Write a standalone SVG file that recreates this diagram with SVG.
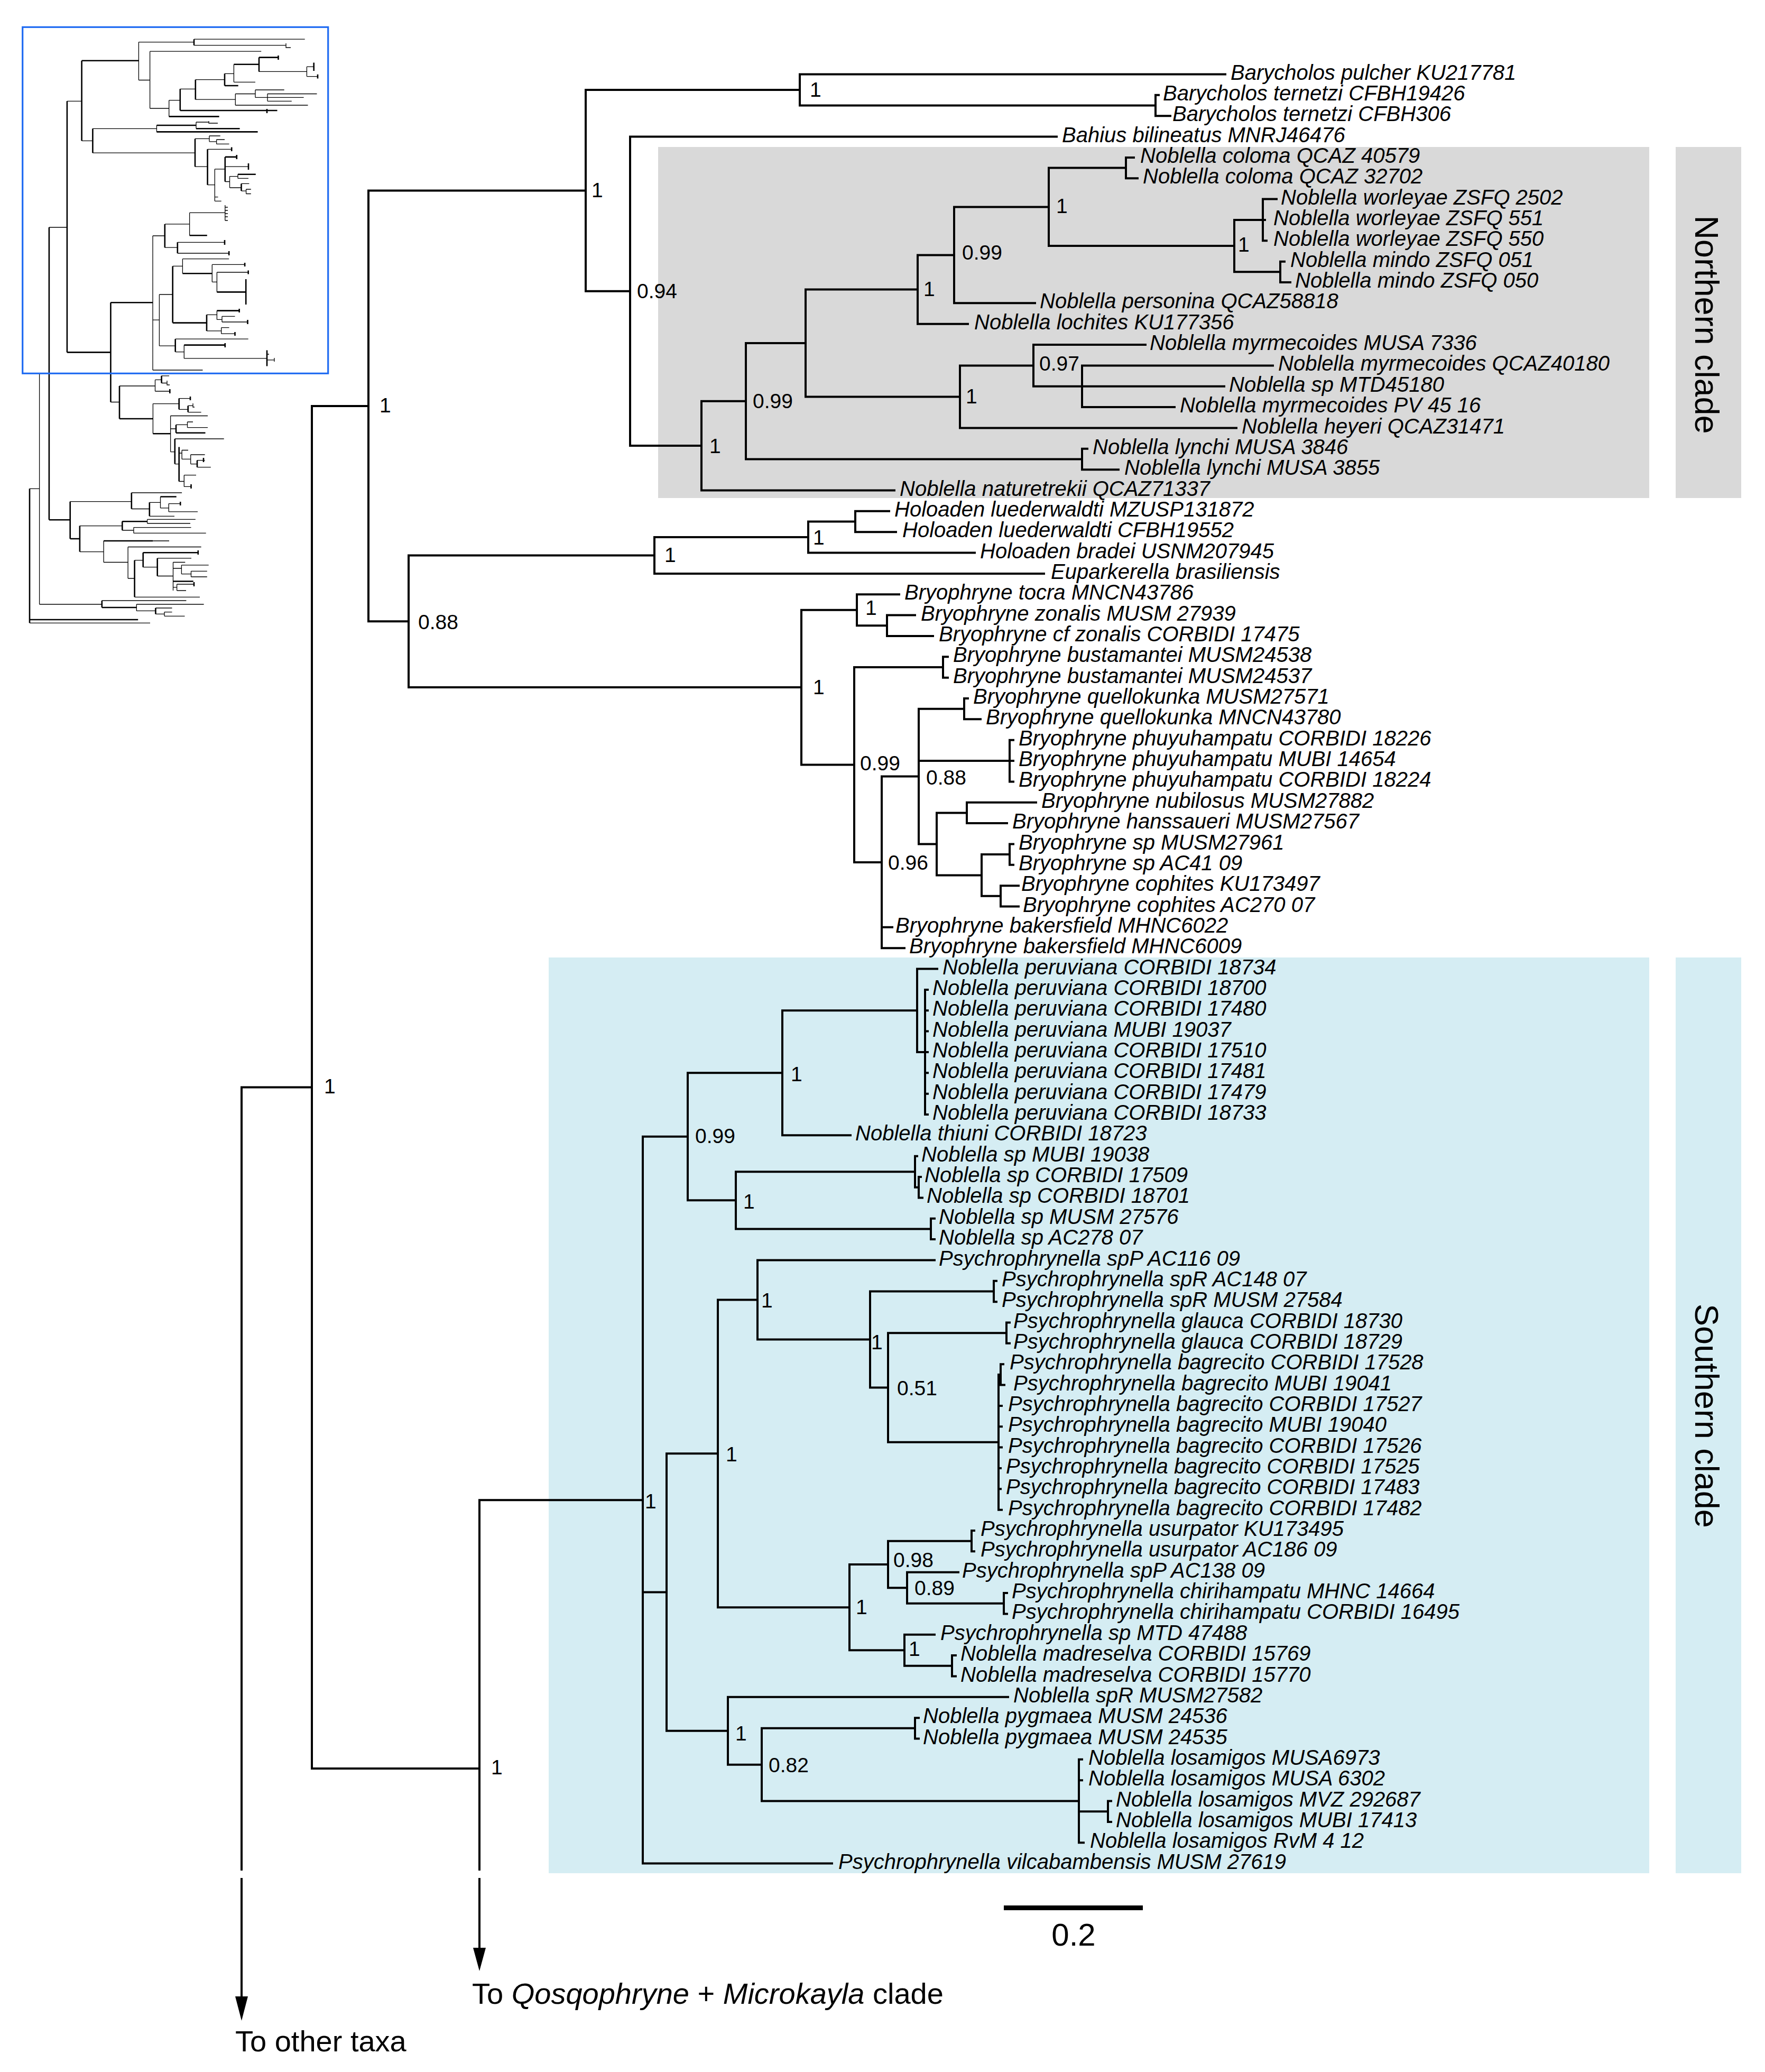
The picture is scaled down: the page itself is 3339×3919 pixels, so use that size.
<svg xmlns="http://www.w3.org/2000/svg" width="3339" height="3919" viewBox="0 0 3339 3919">
<style>
.br{stroke:#000;stroke-width:4;fill:none;stroke-linecap:square}
.tn{stroke:#000;stroke-width:1.3;fill:none}
.tk{stroke:#000;stroke-width:2.6;fill:none}
.lf{font-family:"Liberation Sans",Arial,sans-serif;font-style:italic;font-size:40px;fill:#000}
.sv{font-family:"Liberation Sans",Arial,sans-serif;font-size:39px;fill:#000}
.cl{font-family:"Liberation Sans",Arial,sans-serif;font-size:63px;fill:#000}
.bt{font-family:"Liberation Sans",Arial,sans-serif;font-size:56px;fill:#000}
</style>
<rect width="3339" height="3919" fill="#fff"/>
<g id="thumbnail">
<path class="tn" d="M262.4,79.6V151.5M262.4,79.6H367M367,74.2H576.7M367,85.7H541M541,82V90H550M262.4,151.5H283.6M283.6,97.2V205M283.6,97.2H494.2M283.6,205H319.7M319.7,189.7V220.4M319.7,189.7H340.8M340.8,168.3H369.8M369.8,188.2H445.3M445.3,177.5V199M445.3,177.5H483M483,170V184.4M483,170H537.7M483,184.4H506M506,177.5V191.3M506,177.5H599.5M506,184.4H574.6M506,191.3H551.8M445.3,199H582.5M369.8,150.7H425M425,139.3H442.4M442.4,121.7V155.3M442.4,155.3H483M490,135.4H580.4M580.4,126.2V144.6M580.4,126.2H593.7M580.4,144.6H601M126.9,191.3H154.6M154.6,266.3H175.4M175.4,243.3H296.4M296.4,237V249.4M371,231V243.3M371,231H395M395,229V233H412M175.4,289.2H369M369,262.4H396M396,257V267.8M396,257H416.7M396,267.8H409.6M409.6,264V272.4M409.6,264H425M409.6,272.4H433.5M369,315.2H392.6M392.6,282.3H438.2M392.6,349.7H406.3M406.3,319.8V380.3M406.3,380.3H418.7M406.3,372.6H412.5M406.3,319.8H425.8M425.8,315.2H470M425.8,343.5H434.5M434.5,333.6V355M434.5,333.6H450M450,329.8V337.4M450,337.4H470M434.5,355H456.5M456.5,347.4H471.4M456.5,361.1H465.6M465.6,358V366.5M465.6,358H474.8M465.6,366.5H474.8M289,446V700M289,446H311.8M311.8,423.9H358.6M358.6,402.4V445.3M358.6,402.4H425.8M425.8,387.9V417M425.8,392H431M425.8,398H431M425.8,404H431M425.8,410H431M425.8,417H431M311.8,468.2H335.8M335.8,458.3H425M335.8,479H433.2M289,605.2H301.4M301.4,557V654.2M301.4,557H326.7M326.7,503.4H345.4M345.4,489.7V517.2M345.4,489.7H433.2M401.3,500.4V533.3M401.3,500.4H463.1M401.3,533.3H410.4M410.4,515V552.4M410.4,515H469.7M391,595.3H410.4M410.4,587.6V604.4M410.4,604.4H420M420,598.3V609M420,598.3H444.5M420,609H468.5M391,625.9H418.7M418.7,619.7V631.2M418.7,619.7H433.5M418.7,631.2H444.5M301.4,654.2H331.7M331.7,641.2H469.7M331.7,665.6H348.3M348.3,652.6V677.9M348.3,677.9H505M505,670H509M505,680.8H519M519,677V684M289,700H383.5M209.4,760.5H226M226,730H293.5M293.5,718.4V740M293.5,718.4H305.6M305.6,710.8H320M305.6,724.5H316M316,720V728H321M293.5,740H321.3M289.4,763.6V820.2M289.4,763.6H338.7M338.7,753.6H360M338.7,774.3H355.7M355.7,767.4H365M365,763V770H368M355.7,779.6H380.6M322.6,786.5V854.6M322.6,786.5H393M322.6,811H333M333,803.4H354.5M354.5,798V808.7M354.5,798H365M354.5,808.7H393M322.6,854.6H330.8M330.8,830H423.7M330.8,877.6H338.7M338.7,857H344.1M344.1,851.5V868.4M344.1,851.5H356M344.1,868.4H360.7M360.7,860V877.6M360.7,860H387.6M360.7,877.6H373M373,870.7H387.6M373,883.7H398.8M338.7,910.5H348.3M348.3,898.7V920.4M348.3,898.7H371M348.3,920.4H361.5M92.9,430H126.9M132.7,948.7H248.8M248.8,932H344.1M248.8,962.5H282.8M282.8,950.3H303.5M303.5,939.5V960.9M303.5,960.9H319.2M319.2,952.6V967.9M319.2,952.6H341.2M319.2,967.9H374M282.8,976.3H330M150.9,994.6H231.3M278.6,982.4V990M278.6,982.4H369.8M278.6,990H360M231.3,1003H252.9M252.9,997.6V1008.4M252.9,997.6H361.5M252.9,1008.4H389.7M150.9,1043.6H196.1M196.1,1023V1063.5M289.4,1023H320M196.1,1063.5H242.1M242.1,1034.5V1094M242.1,1034.5H380.6M242.1,1094H254.6M254.6,1059.7H270.7M270.7,1072.7H297.7M297.7,1055.9H362M297.7,1089.5H327.5M327.5,1063.5V1117M327.5,1063.5H350.3M327.5,1075H343.4M343.4,1068.8V1085.7M343.4,1068.8H394.7M343.4,1085.7H361.5M361.5,1080.3V1091M361.5,1080.3H391.8M361.5,1091H391.8M327.5,1110.9H334.6M334.6,1105V1117M334.6,1105H367M334.6,1117H352M254.6,1129.3H378M74.6,706V1143M74.6,706H92.9M74.6,1143H192.8M192.8,1136H352.4M258.3,1143V1155.4M258.3,1143H385.6M258.3,1155.4H294.4M294.4,1150H325.5M294.4,1161.4H311M311,1157.6V1165.3M311,1157.6H325.5M311,1165.3H349.5M56,924.3H74.6M56,1178.3H284"/>
<path class="tk" d="M367,74.2V85.7M319.7,220.4H414.6M340.8,168.3V209M340.8,209H524.5M505,206V214M369.8,150.7V188.2M425,139.3V162M425,162H450.7M442.4,121.7H490M490,108.6V135.4M490,108.6H526.5M526.5,105V113M593.7,118.6V134M601,140.8V148.4M154.6,114.8V266.3M154.6,114.8H262.4M175.4,243.3V289.2M296.4,237H371M371,243.3H453.6M296.4,249.4H487.6M369,262.4V315.2M392.6,282.3V349.7M438.2,278.6V286M425.8,296.9V343.5M425.8,296.9H447.8M447.8,293V301M470,309V321M450,329.8H483.8M456.5,347.4V361.1M126.9,191.3V666.4M126.9,666.4H209.4M209.4,572.3V760.5M209.4,572.3H289M311.8,423.9V468.2M358.6,445.3H391.8M335.8,458.3V479M425,454V463M433.2,475V483M326.7,503.4V610.6M345.4,517.2H401.3M463.1,497V504M469.7,511.5V518.5M410.4,552.4H465.2M465.2,528V576M326.7,610.6H391M391,595.3V625.9M410.4,587.6H452.7M452.7,584V591M468.5,605V613M444.5,628V635M331.7,641.2V665.6M348.3,652.6H425.8M425.8,649V657M505,662.6V692.4M226,730V792M305.6,710.8V724.5M321.3,736V744M226,792H289.4M338.7,753.6V774.3M360,750V757M355.7,767.4V779.6M289.4,820.2H322.6M333,803.4V818.7M333,818.7H388.5M330.8,830V877.6M338.7,845.4V910.5M373,870.7V883.7M385,866V874M361.5,916V924M92.9,430V983.2M92.9,983.2H132.7M132.7,948.7V1019M248.8,932V962.5M282.8,950.3V976.3M303.5,939.5H333.7M341.2,949V956M132.7,1019H150.9M150.9,994.6V1043.6M231.3,986.2V1003M231.3,986.2H278.6M196.1,1023H289.4M254.6,1059.7V1129.3M270.7,1045.2V1072.7M270.7,1045.2H374.8M374.8,1041V1049M297.7,1055.9V1089.5M327.5,1099.5H365.7M367,1101V1109M192.8,1136V1149M192.8,1149H258.3M294.4,1150V1161.4M56,924.3V1178.3M56,1172H261.2"/>
<rect x="42.7" y="51.3" width="578" height="655" fill="none" stroke="#1f6bf2" stroke-width="3.2"/>
</g>
<g id="clade-boxes">
<rect id="northern-box" x="1245" y="278" width="1875" height="664" fill="#d9d9d9"/>
<rect id="northern-band" x="3170" y="278" width="124" height="664" fill="#d9d9d9"/>
<rect id="southern-box" x="1038" y="1811" width="2082" height="1732" fill="#d5edf3"/>
<rect id="southern-band" x="3170" y="1811" width="124" height="1732" fill="#d5edf3"/>
</g>
<g id="connectors">
<path class="br" d="M457,2056.5V3536M457,3554V3780M457,2056.5H590M590,767.9V3345M590,767.9H697M590,3345H907M907,2837.2V3536M907,3554V3690M907,2837.2H1216
M697,360.4V1175.3M697,360.4H1108M697,1175.3H773
M1108,170V550.8M1108,170H1513M1108,550.8H1192
M1513,140.5V199.5M1513,140.5H2318M1513,199.5H2186
M2186,179.85V219.2M2186,179.85H2192M2186,219.2H2214
M1192,258.55V843.1M1192,258.55H1999M1192,843.1H1327
M1327,758.7V927.5M1327,758.7H1411M1327,927.5H1692
M1411,649V868.5M1411,649H1524M1411,868.5H2047
M2047,848.8V888.15M2047,848.8H2057M2047,888.15H2116
M1524,547.5V750.4M1524,547.5H1736M1524,750.4H1816
M1816,691.4V809.45M1816,691.4H1955M1816,809.45H2339
M1955,652.05V730.75M1955,652.05H2167M1955,730.75H2316
M2047,691.4V770.1M2047,691.4H2408M2047,770.1H2222
M1736,482.4V612.7M1736,482.4H1805M1736,612.7H1831
M1805,391.4V573.35M1805,391.4H1984M1805,573.35H1958
M1984,317.6V465.1M1984,317.6H2130M1984,465.1H2335
M2130,297.9V337.25M2130,297.9H2145M2130,337.25H2152
M2335,415.95V514.3M2335,415.95H2389M2335,514.3H2422
M2389,376.6V455.3M2389,376.6H2415M2389,415.95H2393M2389,455.3H2396
M2422,494.65V534M2422,494.65H2430M2422,534H2441
M773,1050.5V1300.1M773,1050.5H1238M773,1300.1H1516
M1238,1016V1084.9M1238,1016H1529M1238,1084.9H1975
M1529,986.5V1045.55M1529,986.5H1618M1529,1045.55H1844
M1618,966.85V1006.2M1618,966.85H1682M1618,1006.2H1695
M1516,1153.8V1446.5M1516,1153.8H1621M1516,1446.5H1616
M1621,1124.25V1183.3M1621,1124.25H1701M1621,1183.3H1678
M1678,1163.6V1202.95M1678,1163.6H1731M1678,1202.95H1765
M1616,1262V1630.9M1616,1262H1784M1616,1630.9H1668
M1784,1242.3V1281.65M1784,1242.3H1793M1784,1281.65H1793
M1668,1468.6V1793.2M1668,1468.6H1738M1668,1753.85H1688M1668,1793.2H1711
M1738,1340.7V1596.5M1738,1340.7H1824M1738,1439.05H1910M1738,1596.5H1772
M1824,1321V1360.35M1824,1321H1831M1824,1360.35H1855
M1910,1399.7V1478.4M1910,1399.7H1917M1910,1439.05H1917M1910,1478.4H1917
M1772,1537.4V1655.5M1772,1537.4H1829M1772,1655.5H1857
M1829,1517.75V1557.1M1829,1517.75H1960M1829,1557.1H1905
M1857,1616.1V1694.8M1857,1616.1H1910M1857,1694.8H1893
M1910,1596.45V1635.8M1910,1596.45H1917M1910,1635.8H1917
M1893,1675.15V1714.5M1893,1675.15H1927M1893,1714.5H1927
M1216,2149.8V3524.6M1216,2149.8H1301M1216,3011.5H1261M1216,3524.6H1574
M1301,2029.3V2270.3M1301,2029.3H1480M1301,2270.3H1392
M1480,1911.3V2147.35M1480,1911.3H1735M1480,2147.35H1609
M1735,1832.55V1990M1735,1832.55H1773M1735,1990H1750
M1750,1871.9V2108M1750,1871.9H1755M1750,1911.25H1755M1750,1950.6H1755M1750,1989.95H1755M1750,2029.3H1755M1750,2068.65H1755M1750,2108H1755
M1392,2216.2V2324.4M1392,2216.2H1731M1392,2324.4H1761
M1731,2186.7V2245.7M1731,2186.7H1735M1731,2245.7H1738
M1738,2226.05V2265.4M1738,2226.05H1742M1738,2265.4H1745
M1761,2304.75V2344.1M1761,2304.75H1768M1761,2344.1H1768
M1261,2749.3V3273.8M1261,2749.3H1358M1261,3273.8H1377
M1358,2458.5V3040.2M1358,2458.5H1433M1358,3040.2H1607
M1433,2383.45V2533.5M1433,2383.45H1768M1433,2533.5H1646
M1646,2442.5V2624.5M1646,2442.5H1880M1646,2624.5H1680
M1880,2422.8V2462.15M1880,2422.8H1885M1880,2462.15H1885
M1680,2521.2V2727.8M1680,2521.2H1904M1680,2727.8H1889
M1904,2501.5V2540.85M1904,2501.5H1910M1904,2540.85H1910
M1889,2599.9V2855.65M1889,2599.9H1893M1889,2658.9H1895M1889,2698.25H1895M1889,2737.6H1895M1889,2776.95H1893M1889,2816.3H1893M1889,2855.65H1895
M1893,2580.2V2619.55M1893,2580.2H1898M1893,2619.55H1900
M1607,2959V3121.3M1607,2959H1680M1607,3121.3H1711
M1680,2914.7V3003.2M1680,2914.7H1838M1680,3003.2H1716
M1838,2895V2934.35M1838,2895H1843M1838,2934.35H1843
M1716,2973.7V3032.7M1716,2973.7H1813M1716,3032.7H1899
M1899,3013.05V3052.4M1899,3013.05H1905M1899,3052.4H1905
M1711,3091.75V3150.8M1711,3091.75H1768M1711,3150.8H1801
M1801,3131.1V3170.45M1801,3131.1H1808M1801,3170.45H1808
M1377,3209.8V3337.7M1377,3209.8H1907M1377,3337.7H1441
M1441,3268.8V3406.55M1441,3268.8H1731M1441,3406.55H2041
M1731,3249.15V3288.5M1731,3249.15H1738M1731,3288.5H1738
M2041,3327.85V3485.25M2041,3327.85H2047M2041,3367.2H2047M2041,3426.2H2096M2041,3485.25H2050
M2096,3406.55V3445.9M2096,3406.55H2102M2096,3445.9H2102"/>
<polygon points="445,3776 469,3776 457,3822" fill="#000"/>
<polygon points="895,3684 919,3684 907,3728" fill="#000"/>
<rect id="scale-bar" x="1899" y="3604" width="263" height="9" fill="#000"/>
</g>
<g id="leaf-labels" class="lf">
<text id="t0" x="2328" y="150.5">Barycholos pulcher KU217781</text>
<text id="t1" x="2200" y="189.9">Barycholos ternetzi CFBH19426</text>
<text id="t2" x="2218" y="229.2">Barycholos ternetzi CFBH306</text>
<text id="t3" x="2009" y="268.6">Bahius bilineatus MNRJ46476</text>
<text id="t4" x="2157" y="307.9">Noblella coloma QCAZ 40579</text>
<text id="t5" x="2162" y="347.3">Noblella coloma QCAZ 32702</text>
<text id="t6" x="2423" y="386.6">Noblella worleyae ZSFQ 2502</text>
<text id="t7" x="2409" y="426">Noblella worleyae ZSFQ 551</text>
<text id="t8" x="2409" y="465.3">Noblella worleyae ZSFQ 550</text>
<text id="t9" x="2441" y="504.7">Noblella mindo ZSFQ 051</text>
<text id="t10" x="2450" y="544">Noblella mindo ZSFQ 050</text>
<text id="t11" x="1967" y="583.4">Noblella personina QCAZ58818</text>
<text id="t12" x="1843" y="622.7">Noblella lochites KU177356</text>
<text id="t13" x="2175" y="662.1">Noblella myrmecoides MUSA 7336</text>
<text id="t14" x="2418" y="701.4">Noblella myrmecoides QCAZ40180</text>
<text id="t15" x="2325" y="740.8">Noblella sp MTD45180</text>
<text id="t16" x="2232" y="780.1">Noblella myrmecoides PV 45 16</text>
<text id="t17" x="2349" y="819.5">Noblella heyeri QCAZ31471</text>
<text id="t18" x="2067" y="858.8">Noblella lynchi MUSA 3846</text>
<text id="t19" x="2127" y="898.2">Noblella lynchi MUSA 3855</text>
<text id="t20" x="1702" y="937.5">Noblella naturetrekii QCAZ71337</text>
<text id="t21" x="1692" y="976.9">Holoaden luederwaldti MZUSP131872</text>
<text id="t22" x="1707" y="1016.2">Holoaden luederwaldti CFBH19552</text>
<text id="t23" x="1854" y="1055.6">Holoaden bradei USNM207945</text>
<text id="t24" x="1988" y="1094.9">Euparkerella brasiliensis</text>
<text id="t25" x="1711" y="1134.3">Bryophryne tocra MNCN43786</text>
<text id="t26" x="1742" y="1173.6">Bryophryne zonalis MUSM 27939</text>
<text id="t27" x="1776" y="1213">Bryophryne cf zonalis CORBIDI 17475</text>
<text id="t28" x="1803" y="1252.3">Bryophryne bustamantei MUSM24538</text>
<text id="t29" x="1803" y="1291.7">Bryophryne bustamantei MUSM24537</text>
<text id="t30" x="1841" y="1331">Bryophryne quellokunka MUSM27571</text>
<text id="t31" x="1865" y="1370.4">Bryophryne quellokunka MNCN43780</text>
<text id="t32" x="1927" y="1409.7">Bryophryne phuyuhampatu CORBIDI 18226</text>
<text id="t33" x="1927" y="1449.1">Bryophryne phuyuhampatu MUBI 14654</text>
<text id="t34" x="1927" y="1488.4">Bryophryne phuyuhampatu CORBIDI 18224</text>
<text id="t35" x="1970" y="1527.8">Bryophryne nubilosus MUSM27882</text>
<text id="t36" x="1915" y="1567.1">Bryophryne hanssaueri MUSM27567</text>
<text id="t37" x="1927" y="1606.5">Bryophryne sp MUSM27961</text>
<text id="t38" x="1927" y="1645.8">Bryophryne sp AC41 09</text>
<text id="t39" x="1932" y="1685.2">Bryophryne cophites KU173497</text>
<text id="t40" x="1935" y="1724.5">Bryophryne cophites AC270 07</text>
<text id="t41" x="1694" y="1763.9">Bryophryne bakersfield MHNC6022</text>
<text id="t42" x="1720" y="1803.2">Bryophryne bakersfield MHNC6009</text>
<text id="t43" x="1783" y="1842.6">Noblella peruviana CORBIDI 18734</text>
<text id="t44" x="1764" y="1881.9">Noblella peruviana CORBIDI 18700</text>
<text id="t45" x="1764" y="1921.3">Noblella peruviana CORBIDI 17480</text>
<text id="t46" x="1764" y="1960.6">Noblella peruviana MUBI 19037</text>
<text id="t47" x="1764" y="2000">Noblella peruviana CORBIDI 17510</text>
<text id="t48" x="1764" y="2039.3">Noblella peruviana CORBIDI 17481</text>
<text id="t49" x="1764" y="2078.7">Noblella peruviana CORBIDI 17479</text>
<text id="t50" x="1764" y="2118">Noblella peruviana CORBIDI 18733</text>
<text id="t51" x="1618" y="2157.4">Noblella thiuni CORBIDI 18723</text>
<text id="t52" x="1743" y="2196.7">Noblella sp MUBI 19038</text>
<text id="t53" x="1749" y="2236.1">Noblella sp CORBIDI 17509</text>
<text id="t54" x="1753" y="2275.4">Noblella sp CORBIDI 18701</text>
<text id="t55" x="1776" y="2314.8">Noblella sp MUSM 27576</text>
<text id="t56" x="1776" y="2354.1">Noblella sp AC278 07</text>
<text id="t57" x="1776" y="2393.5">Psychrophrynella spP AC116 09</text>
<text id="t58" x="1895" y="2432.8">Psychrophrynella spR AC148 07</text>
<text id="t59" x="1895" y="2472.2">Psychrophrynella spR MUSM 27584</text>
<text id="t60" x="1917" y="2511.5">Psychrophrynella glauca CORBIDI 18730</text>
<text id="t61" x="1917" y="2550.9">Psychrophrynella glauca CORBIDI 18729</text>
<text id="t62" x="1910" y="2590.2">Psychrophrynella bagrecito CORBIDI 17528</text>
<text id="t63" x="1917" y="2629.6">Psychrophrynella bagrecito MUBI 19041</text>
<text id="t64" x="1907" y="2668.9">Psychrophrynella bagrecito CORBIDI 17527</text>
<text id="t65" x="1907" y="2708.3">Psychrophrynella bagrecito MUBI 19040</text>
<text id="t66" x="1907" y="2747.6">Psychrophrynella bagrecito CORBIDI 17526</text>
<text id="t67" x="1903" y="2787">Psychrophrynella bagrecito CORBIDI 17525</text>
<text id="t68" x="1903" y="2826.3">Psychrophrynella bagrecito CORBIDI 17483</text>
<text id="t69" x="1907" y="2865.7">Psychrophrynella bagrecito CORBIDI 17482</text>
<text id="t70" x="1855" y="2905">Psychrophrynella usurpator KU173495</text>
<text id="t71" x="1855" y="2944.4">Psychrophrynella usurpator AC186 09</text>
<text id="t72" x="1820" y="2983.7">Psychrophrynella spP AC138 09</text>
<text id="t73" x="1914" y="3023.1">Psychrophrynella chirihampatu MHNC 14664</text>
<text id="t74" x="1914" y="3062.4">Psychrophrynella chirihampatu CORBIDI 16495</text>
<text id="t75" x="1779" y="3101.8">Psychrophrynella sp MTD 47488</text>
<text id="t76" x="1817" y="3141.1">Noblella madreselva CORBIDI 15769</text>
<text id="t77" x="1817" y="3180.5">Noblella madreselva CORBIDI 15770</text>
<text id="t78" x="1917" y="3219.8">Noblella spR MUSM27582</text>
<text id="t79" x="1746" y="3259.2">Noblella pygmaea MUSM 24536</text>
<text id="t80" x="1746" y="3298.5">Noblella pygmaea MUSM 24535</text>
<text id="t81" x="2059" y="3337.9">Noblella losamigos MUSA6973</text>
<text id="t82" x="2059" y="3377.2">Noblella losamigos MUSA 6302</text>
<text id="t83" x="2111" y="3416.6">Noblella losamigos MVZ 292687</text>
<text id="t84" x="2111" y="3455.9">Noblella losamigos MUBI 17413</text>
<text id="t85" x="2062" y="3495.3">Noblella losamigos RvM 4 12</text>
<text id="t86" x="1586" y="3534.6">Psychrophrynella vilcabambensis MUSM 27619</text>
</g>
<g id="support-values" class="sv">
<text x="1532" y="183">1</text>
<text x="1119" y="373">1</text>
<text x="1205" y="564">0.94</text>
<text x="2342" y="476">1</text>
<text x="1998" y="403">1</text>
<text x="1820" y="491">0.99</text>
<text x="1747" y="560">1</text>
<text x="1342" y="857">1</text>
<text x="1424" y="772">0.99</text>
<text x="1827" y="763">1</text>
<text x="1966" y="701">0.97</text>
<text x="718" y="780">1</text>
<text x="791" y="1190">0.88</text>
<text x="1257" y="1063">1</text>
<text x="1538" y="1030">1</text>
<text x="1538" y="1313">1</text>
<text x="1637" y="1163">1</text>
<text x="1627" y="1457">0.99</text>
<text x="1752" y="1484">0.88</text>
<text x="1680" y="1645">0.96</text>
<text x="613" y="2068">1</text>
<text x="1496" y="2045">1</text>
<text x="1315" y="2162">0.99</text>
<text x="1406" y="2286">1</text>
<text x="1440" y="2473">1</text>
<text x="1648" y="2552">1</text>
<text x="1697" y="2639">0.51</text>
<text x="1373" y="2764">1</text>
<text x="1220" y="2853">1</text>
<text x="1690" y="2964">0.98</text>
<text x="1730" y="3017">0.89</text>
<text x="1619" y="3053">1</text>
<text x="1719" y="3132">1</text>
<text x="1391" y="3292">1</text>
<text x="1454" y="3352">0.82</text>
<text x="929" y="3356">1</text>
</g>
<g id="clade-labels">
<text id="northern-label" class="cl" x="3207" y="614" text-anchor="middle" transform="rotate(90 3207 614)">Northern clade</text>
<text id="southern-label" class="cl" x="3207" y="2678" text-anchor="middle" transform="rotate(90 3207 2678)">Southern clade</text>
</g>
<g id="annotations">
<text id="scale-label" x="2031" y="3680" text-anchor="middle" style="font-family:'Liberation Sans',Arial,sans-serif;font-size:60px">0.2</text>
<text id="to-qosqophryne" class="bt" x="893" y="3790">To <tspan font-style="italic">Qosqophryne</tspan> + <tspan font-style="italic">Microkayla</tspan> clade</text>
<text id="to-other" class="bt" x="445" y="3880">To other taxa</text>
</g>
</svg>
